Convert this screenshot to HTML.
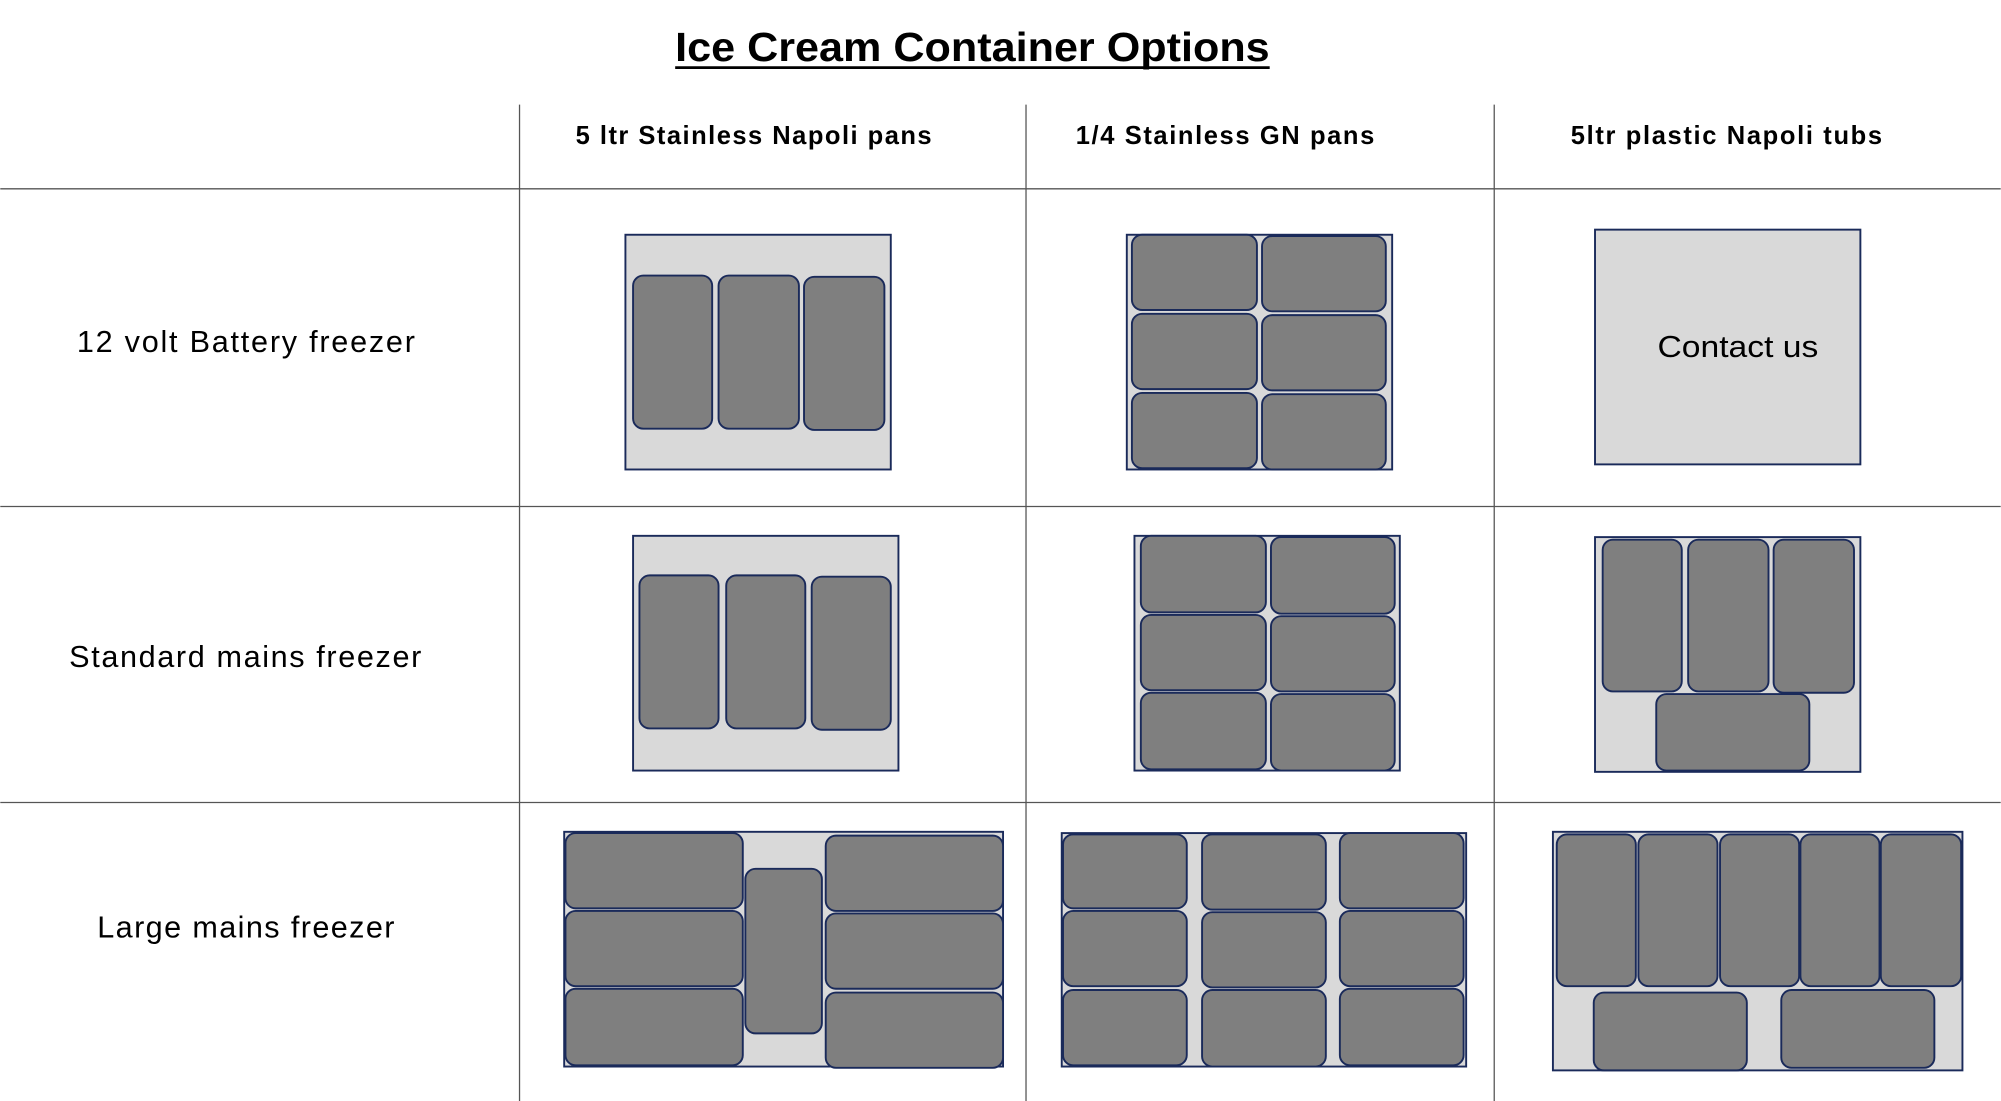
<!DOCTYPE html>
<html><head><meta charset="utf-8"><style>
html,body{margin:0;padding:0;background:#fff;}
svg{display:block;}
text{font-family:"Liberation Sans",sans-serif;fill:#000;}
.c{fill:#d9d9d9;stroke:#1a2a5a;stroke-width:1.5;}
.t{fill:#7f7f7f;stroke:#1a2a5a;stroke-width:1.5;}
.l{stroke:#555;stroke-width:1;}
</style></head><body>
<svg width="2001" height="1101" viewBox="0 0 1568 863" xmlns="http://www.w3.org/2000/svg">
<text x="529" y="48" font-size="32" font-weight="bold" textLength="466" lengthAdjust="spacingAndGlyphs">Ice Cream Container Options</text>
<line x1="529" y1="53" x2="995" y2="53" stroke="#000" stroke-width="2.2"/>
<line class="l" x1="407" y1="82" x2="407" y2="863"/>
<line class="l" x1="804" y1="82" x2="804" y2="863"/>
<line class="l" x1="1171" y1="82" x2="1171" y2="863"/>
<line class="l" x1="0" y1="148" x2="1568" y2="148"/>
<line class="l" x1="0" y1="397" x2="1568" y2="397"/>
<line class="l" x1="0" y1="629" x2="1568" y2="629"/>
<g font-size="20" font-weight="bold" lengthAdjust="spacingAndGlyphs">
<text x="451" y="113" textLength="279">5 ltr Stainless Napoli pans</text>
<text x="843" y="113" textLength="234">1/4 Stainless GN pans</text>
<text x="1231" y="113" textLength="244">5ltr plastic Napoli tubs</text>
</g>
<g font-size="24" lengthAdjust="spacingAndGlyphs">
<text x="60" y="276" textLength="265">12 volt Battery freezer</text>
<text x="54" y="523" textLength="276">Standard mains freezer</text>
<text x="76" y="735" textLength="233">Large mains freezer</text>
</g>
<!-- row1 -->
<rect class="c" x="490" y="184" width="208" height="184"/>
<rect class="t" x="496" y="216" width="62" height="120" rx="8"/>
<rect class="t" x="563" y="216" width="63" height="120" rx="8"/>
<rect class="t" x="630" y="217" width="63" height="120" rx="8"/>
<rect class="c" x="883" y="184" width="208" height="184"/>
<rect class="t" x="887" y="184" width="98" height="59" rx="8"/>
<rect class="t" x="989" y="185" width="97" height="59" rx="8"/>
<rect class="t" x="887" y="246" width="98" height="59" rx="8"/>
<rect class="t" x="989" y="247" width="97" height="59" rx="8"/>
<rect class="t" x="887" y="308" width="98" height="59" rx="8"/>
<rect class="t" x="989" y="309" width="97" height="59" rx="8"/>
<rect class="c" x="1250" y="180" width="208" height="184"/>
<text x="1299" y="280" font-size="24" textLength="126" lengthAdjust="spacingAndGlyphs">Contact us</text>
<!-- row2 -->
<rect class="c" x="496" y="420" width="208" height="184"/>
<rect class="t" x="501" y="451" width="62" height="120" rx="8"/>
<rect class="t" x="569" y="451" width="62" height="120" rx="8"/>
<rect class="t" x="636" y="452" width="62" height="120" rx="8"/>
<rect class="c" x="889" y="420" width="208" height="184"/>
<rect class="t" x="894" y="420" width="98" height="60" rx="8"/>
<rect class="t" x="996" y="421" width="97" height="60" rx="8"/>
<rect class="t" x="894" y="482" width="98" height="59" rx="8"/>
<rect class="t" x="996" y="483" width="97" height="59" rx="8"/>
<rect class="t" x="894" y="543" width="98" height="60" rx="8"/>
<rect class="t" x="996" y="544" width="97" height="60" rx="8"/>
<rect class="c" x="1250" y="421" width="208" height="184"/>
<rect class="t" x="1256" y="423" width="62" height="119" rx="8"/>
<rect class="t" x="1323" y="423" width="63" height="119" rx="8"/>
<rect class="t" x="1390" y="423" width="63" height="120" rx="8"/>
<rect class="t" x="1298" y="544" width="120" height="60" rx="8"/>
<!-- row3 -->
<rect class="c" x="442" y="652" width="344" height="184"/>
<rect class="t" x="443" y="653" width="139" height="59" rx="8"/>
<rect class="t" x="443" y="714" width="139" height="59" rx="8"/>
<rect class="t" x="443" y="775" width="139" height="60" rx="8"/>
<rect class="t" x="584" y="681" width="60" height="129" rx="8"/>
<rect class="t" x="647" y="655" width="139" height="59" rx="8"/>
<rect class="t" x="647" y="716" width="139" height="59" rx="8"/>
<rect class="t" x="647" y="778" width="139" height="59" rx="8"/>
<rect class="c" x="832" y="653" width="317" height="183"/>
<rect class="t" x="833" y="654" width="97" height="58" rx="8"/>
<rect class="t" x="833" y="714" width="97" height="59" rx="8"/>
<rect class="t" x="833" y="776" width="97" height="59" rx="8"/>
<rect class="t" x="942" y="654" width="97" height="59" rx="8"/>
<rect class="t" x="942" y="715" width="97" height="59" rx="8"/>
<rect class="t" x="942" y="776" width="97" height="60" rx="8"/>
<rect class="t" x="1050" y="653" width="97" height="59" rx="8"/>
<rect class="t" x="1050" y="714" width="97" height="59" rx="8"/>
<rect class="t" x="1050" y="775" width="97" height="60" rx="8"/>
<rect class="c" x="1217" y="652" width="321" height="187"/>
<rect class="t" x="1220" y="654" width="62" height="119" rx="8"/>
<rect class="t" x="1284" y="654" width="62" height="119" rx="8"/>
<rect class="t" x="1348" y="654" width="62" height="119" rx="8"/>
<rect class="t" x="1411" y="654" width="62" height="119" rx="8"/>
<rect class="t" x="1474" y="654" width="63" height="119" rx="8"/>
<rect class="t" x="1249" y="778" width="120" height="61" rx="8"/>
<rect class="t" x="1396" y="776" width="120" height="61" rx="8"/>
</svg>
</body></html>
